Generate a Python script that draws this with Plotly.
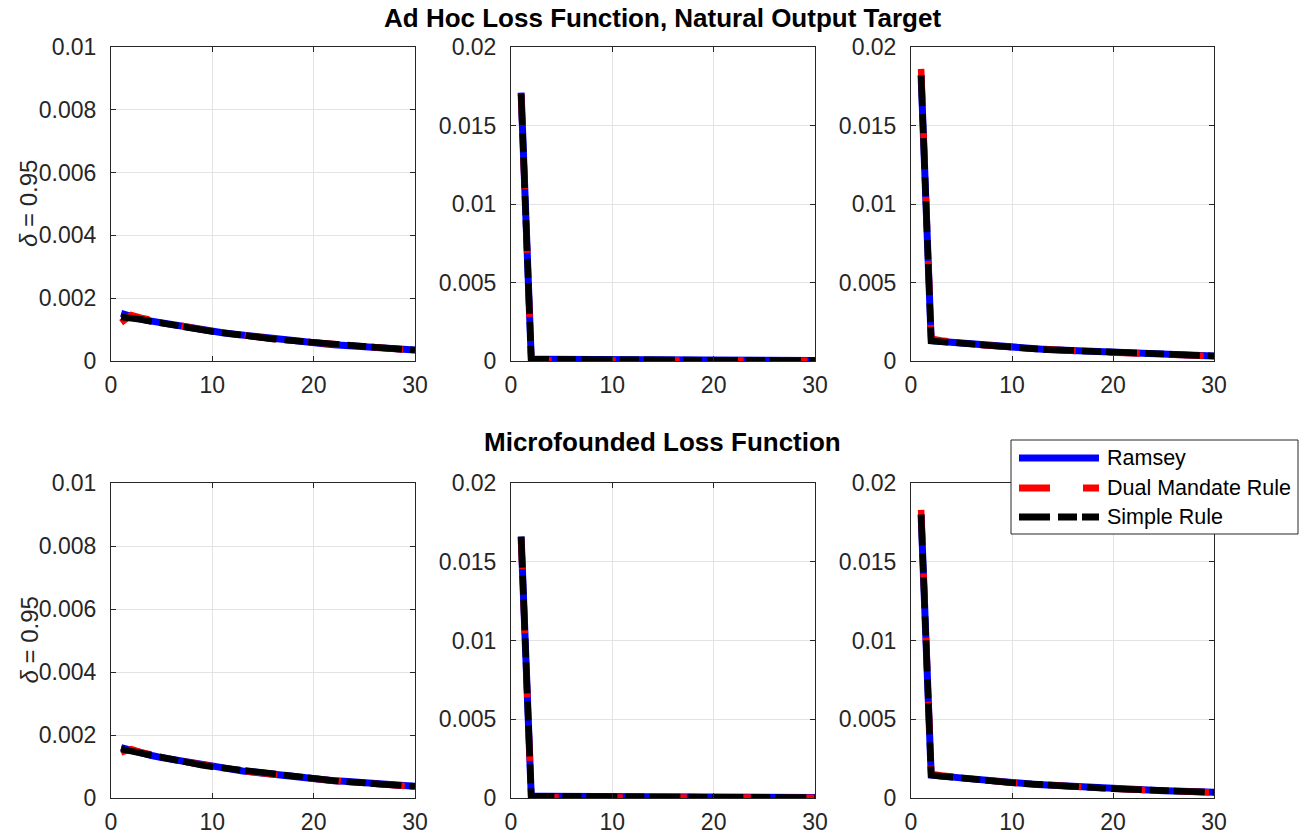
import plotly.graph_objects as go

# ---------------- data ----------------
periods = list(range(1, 31))

# Ad Hoc loss function, natural output target (top row)
ramsey_a1 = [0.00152, 0.00140, 0.00133, 0.00127, 0.00121, 0.00115, 0.00110, 0.00104, 0.00099, 0.00095,
             0.00090, 0.00086, 0.00082, 0.00078, 0.00074, 0.00070, 0.00067, 0.00064, 0.00061, 0.00058,
             0.00055, 0.00052, 0.00050, 0.00047, 0.00045, 0.00043, 0.00041, 0.00039, 0.00037, 0.00035]
dual_a1 = [0.00122, 0.00146, 0.00137, 0.00130, 0.00123, 0.00117, 0.00111, 0.00105, 0.00100, 0.00095,
           0.00090, 0.00086, 0.00082, 0.00078, 0.00074, 0.00070, 0.00067, 0.00064, 0.00061, 0.00058,
           0.00055, 0.00052, 0.00049, 0.00047, 0.00045, 0.00042, 0.00040, 0.00038, 0.00036, 0.00034]
simple_a1 = [0.00140, 0.00138, 0.00132, 0.00126, 0.00120, 0.00114, 0.00109, 0.00104, 0.00099, 0.00094,
             0.00090, 0.00085, 0.00081, 0.00077, 0.00074, 0.00070, 0.00067, 0.00064, 0.00061, 0.00058,
             0.00055, 0.00052, 0.00050, 0.00047, 0.00045, 0.00043, 0.00041, 0.00039, 0.00037, 0.00035]

ramsey_a2 = [0.0171, 0.00012, 0.00011, 0.00011, 0.00010, 0.00010, 0.00009, 0.00009, 0.00008, 0.00008,
             0.00008, 0.00007, 0.00007, 0.00007, 0.00006, 0.00006, 0.00006, 0.00005, 0.00005, 0.00005,
             0.00005, 0.00004, 0.00004, 0.00004, 0.00004, 0.00004, 0.00003, 0.00003, 0.00003, 0.00003]
dual_a2 = [0.0170, 0.00003, 0.00004, 0.00004, 0.00004, 0.00004, 0.00004, 0.00004, 0.00004, 0.00004,
           0.00004, 0.00004, 0.00004, 0.00003, 0.00003, 0.00003, 0.00003, 0.00003, 0.00003, 0.00003,
           0.00003, 0.00003, 0.00003, 0.00002, 0.00002, 0.00002, 0.00002, 0.00002, 0.00002, 0.00002]
simple_a2 = [0.0170, 0.00011, 0.00011, 0.00010, 0.00010, 0.00009, 0.00009, 0.00009, 0.00008, 0.00008,
             0.00007, 0.00007, 0.00007, 0.00006, 0.00006, 0.00006, 0.00005, 0.00005, 0.00005, 0.00005,
             0.00004, 0.00004, 0.00004, 0.00004, 0.00004, 0.00003, 0.00003, 0.00003, 0.00003, 0.00003]

ramsey_a3 = [0.0182, 0.00130, 0.00124, 0.00118, 0.00112, 0.00106, 0.00101, 0.00096, 0.00091, 0.00087,
             0.00083, 0.00079, 0.00075, 0.00071, 0.00068, 0.00064, 0.00061, 0.00058, 0.00055, 0.00053,
             0.00050, 0.00048, 0.00045, 0.00043, 0.00041, 0.00039, 0.00037, 0.00035, 0.00033, 0.00032]
dual_a3 = [0.0186, 0.00142, 0.00131, 0.00122, 0.00115, 0.00108, 0.00102, 0.00097, 0.00092, 0.00087,
           0.00083, 0.00079, 0.00075, 0.00071, 0.00067, 0.00064, 0.00061, 0.00058, 0.00055, 0.00052,
           0.00050, 0.00047, 0.00045, 0.00043, 0.00041, 0.00039, 0.00037, 0.00035, 0.00033, 0.00031]
simple_a3 = [0.0182, 0.00128, 0.00123, 0.00117, 0.00111, 0.00106, 0.00100, 0.00095, 0.00091, 0.00086,
             0.00082, 0.00078, 0.00074, 0.00071, 0.00067, 0.00064, 0.00061, 0.00058, 0.00055, 0.00052,
             0.00050, 0.00047, 0.00045, 0.00043, 0.00041, 0.00039, 0.00037, 0.00035, 0.00033, 0.00032]

# Microfounded loss function (bottom row)
ramsey_m1 = [0.00160, 0.00150, 0.00142, 0.00135, 0.00128, 0.00122, 0.00116, 0.00110, 0.00105, 0.00100,
             0.00095, 0.00091, 0.00086, 0.00082, 0.00078, 0.00074, 0.00071, 0.00067, 0.00064, 0.00061,
             0.00058, 0.00055, 0.00053, 0.00050, 0.00048, 0.00045, 0.00043, 0.00041, 0.00039, 0.00037]
dual_m1 = [0.00145, 0.00155, 0.00145, 0.00137, 0.00130, 0.00123, 0.00117, 0.00111, 0.00105, 0.00100,
           0.00095, 0.00090, 0.00086, 0.00082, 0.00078, 0.00074, 0.00070, 0.00067, 0.00063, 0.00060,
           0.00057, 0.00055, 0.00052, 0.00049, 0.00047, 0.00045, 0.00042, 0.00040, 0.00038, 0.00036]
simple_m1 = [0.00155, 0.00148, 0.00141, 0.00134, 0.00127, 0.00121, 0.00115, 0.00110, 0.00104, 0.00099,
             0.00095, 0.00090, 0.00086, 0.00082, 0.00078, 0.00074, 0.00070, 0.00067, 0.00064, 0.00061,
             0.00058, 0.00055, 0.00052, 0.00050, 0.00047, 0.00045, 0.00043, 0.00041, 0.00039, 0.00037]

ramsey_m2 = [0.0166, 0.00012, 0.00011, 0.00011, 0.00010, 0.00010, 0.00009, 0.00009, 0.00008, 0.00008,
             0.00008, 0.00007, 0.00007, 0.00007, 0.00006, 0.00006, 0.00006, 0.00005, 0.00005, 0.00005,
             0.00005, 0.00004, 0.00004, 0.00004, 0.00004, 0.00004, 0.00003, 0.00003, 0.00003, 0.00003]
dual_m2 = [0.0165, 0.00004, 0.00004, 0.00004, 0.00004, 0.00004, 0.00004, 0.00004, 0.00004, 0.00004,
           0.00004, 0.00004, 0.00004, 0.00003, 0.00003, 0.00003, 0.00003, 0.00003, 0.00003, 0.00003,
           0.00003, 0.00003, 0.00003, 0.00002, 0.00002, 0.00002, 0.00002, 0.00002, 0.00002, 0.00002]
simple_m2 = [0.0166, 0.00011, 0.00011, 0.00010, 0.00010, 0.00009, 0.00009, 0.00009, 0.00008, 0.00008,
             0.00007, 0.00007, 0.00007, 0.00006, 0.00006, 0.00006, 0.00005, 0.00005, 0.00005, 0.00005,
             0.00004, 0.00004, 0.00004, 0.00004, 0.00004, 0.00003, 0.00003, 0.00003, 0.00003, 0.00003]

ramsey_m3 = [0.0180, 0.00146, 0.00139, 0.00132, 0.00126, 0.00120, 0.00114, 0.00108, 0.00103, 0.00098,
             0.00093, 0.00088, 0.00084, 0.00080, 0.00076, 0.00072, 0.00069, 0.00065, 0.00062, 0.00059,
             0.00056, 0.00053, 0.00051, 0.00048, 0.00046, 0.00044, 0.00042, 0.00040, 0.00038, 0.00036]
dual_m3 = [0.0183, 0.00152, 0.00143, 0.00135, 0.00128, 0.00121, 0.00115, 0.00109, 0.00103, 0.00098,
           0.00093, 0.00088, 0.00084, 0.00080, 0.00076, 0.00072, 0.00068, 0.00065, 0.00062, 0.00059,
           0.00056, 0.00053, 0.00050, 0.00048, 0.00045, 0.00043, 0.00041, 0.00039, 0.00037, 0.00035]
simple_m3 = [0.0180, 0.00145, 0.00138, 0.00131, 0.00125, 0.00119, 0.00113, 0.00108, 0.00102, 0.00097,
             0.00093, 0.00088, 0.00084, 0.00080, 0.00076, 0.00072, 0.00068, 0.00065, 0.00062, 0.00059,
             0.00056, 0.00053, 0.00051, 0.00048, 0.00046, 0.00044, 0.00042, 0.00040, 0.00038, 0.00036]

series_names = ["Ramsey", "Dual Mandate Rule", "Simple Rule"]
panels = [
    (ramsey_a1, dual_a1, simple_a1),
    (ramsey_a2, dual_a2, simple_a2),
    (ramsey_a3, dual_a3, simple_a3),
    (ramsey_m1, dual_m1, simple_m1),
    (ramsey_m2, dual_m2, simple_m2),
    (ramsey_m3, dual_m3, simple_m3),
]
row_titles = ["Ad Hoc Loss Function, Natural Output Target", "Microfounded Loss Function"]
ylabel_text = "<i>δ</i> = 0.95"

x_ticks = [0, 10, 20, 30]
x_ticktext = ["0", "10", "20", "30"]
y_ticks_small = [0, 0.002, 0.004, 0.006, 0.008, 0.01]
y_ticktext_small = ["0", "0.002", "0.004", "0.006", "0.008", "0.01"]
y_ticks_big = [0, 0.005, 0.01, 0.015, 0.02]
y_ticktext_big = ["0", "0.005", "0.01", "0.015", "0.02"]

# ---------------- style ----------------
W, H = 1309, 838
FONT = "Liberation Sans, Arial, Helvetica, sans-serif"
AX = "#262626"
GRID = "#e3e3e3"
colors = ["#0000ff", "#ff0000", "#000000"]
widths = [7, 6.5, 6.5]
dashes = ["solid", "31px,33px", "31px,8px,19px,5px"]


def px_x(p):
    return p / W


def px_y(p):
    return 1 - p / H


col_px = [(111, 415), (511, 815), (911, 1214)]
row_px = [(47, 361), (483, 798)]

fig = go.Figure()

for i, data in enumerate(panels):
    r, c = divmod(i, 3)
    ax_id = "" if i == 0 else str(i + 1)
    for k, ys in enumerate(data):
        fig.add_trace(go.Scatter(
            x=periods, y=ys, mode="lines", name=series_names[k],
            showlegend=False,
            line=dict(color=colors[k], width=widths[k], dash=dashes[k]),
            xaxis="x" + ax_id, yaxis="y" + ax_id,
        ))
    x0, x1 = col_px[c]
    y0, y1 = row_px[r]
    big = c > 0
    fig.update_layout(**{
        "xaxis" + ax_id: dict(
            domain=[px_x(x0), px_x(x1)], anchor="y" + ax_id, range=[0, 30],
            tickvals=x_ticks, ticktext=x_ticktext, automargin=False,
            showgrid=True, gridcolor=GRID, gridwidth=1, zeroline=False,
            showline=True, linecolor=AX, linewidth=1, mirror="ticks",
            ticks="inside", ticklen=5, tickcolor=AX,
            tickfont=dict(family=FONT, size=23, color=AX), ticklabelstandoff=3,
        ),
        "yaxis" + ax_id: dict(
            domain=[px_y(y1), px_y(y0)], anchor="x" + ax_id,
            range=[0, 0.02 if big else 0.01], automargin=False,
            tickvals=y_ticks_big if big else y_ticks_small,
            ticktext=y_ticktext_big if big else y_ticktext_small,
            showgrid=True, gridcolor=GRID, gridwidth=1, zeroline=False,
            showline=True, linecolor=AX, linewidth=1, mirror="ticks",
            ticks="inside", ticklen=5, tickcolor=AX,
            tickfont=dict(family=FONT, size=23, color=AX), ticklabelstandoff=9,
        ),
    })

annotations = []
# row titles
for r, (title, ycen) in enumerate(zip(row_titles, [18, 442])):
    annotations.append(dict(
        text="<b>" + title + "</b>", x=px_x((111 + 1214) / 2), y=px_y(ycen),
        xref="paper", yref="paper", xanchor="center", yanchor="middle",
        showarrow=False, font=dict(family=FONT, size=26, color="#000000"),
    ))
# y labels
for (y0, y1) in row_px:
    annotations.append(dict(
        text=ylabel_text, x=px_x(29), y=px_y((y0 + y1) / 2),
        xref="paper", yref="paper", xanchor="center", yanchor="middle",
        textangle=-90, showarrow=False, font=dict(family=FONT, size=24, color=AX),
    ))

# custom legend (MATLAB style, long sample lines)
shapes = [dict(type="rect", xref="paper", yref="paper", layer="above",
               x0=px_x(1011), x1=px_x(1298), y0=px_y(534), y1=px_y(440),
               line=dict(color=AX, width=1), fillcolor="white")]
leg_y = [458, 488, 517]
for k in range(3):
    shapes.append(dict(type="line", xref="paper", yref="paper", layer="above",
                       x0=px_x(1019), x1=px_x(1099), y0=px_y(leg_y[k]), y1=px_y(leg_y[k]),
                       line=dict(color=colors[k], width=7, dash=dashes[k])))
    annotations.append(dict(
        text=series_names[k], x=px_x(1105), y=px_y(leg_y[k]),
        xref="paper", yref="paper", xanchor="left", yanchor="middle",
        showarrow=False, font=dict(family=FONT, size=21.5, color="#000000"),
    ))

fig.update_layout(
    width=W, height=H, margin=dict(l=0, r=0, t=0, b=0, pad=0, autoexpand=False),
    paper_bgcolor="white", plot_bgcolor="white",
    font=dict(family=FONT, color=AX),
    showlegend=False, annotations=annotations, shapes=shapes,
)

fig.write_html("out.html", config={"displayModeBar": False},
               post_script="document.body.style.margin='0';document.body.style.overflow='hidden';")
